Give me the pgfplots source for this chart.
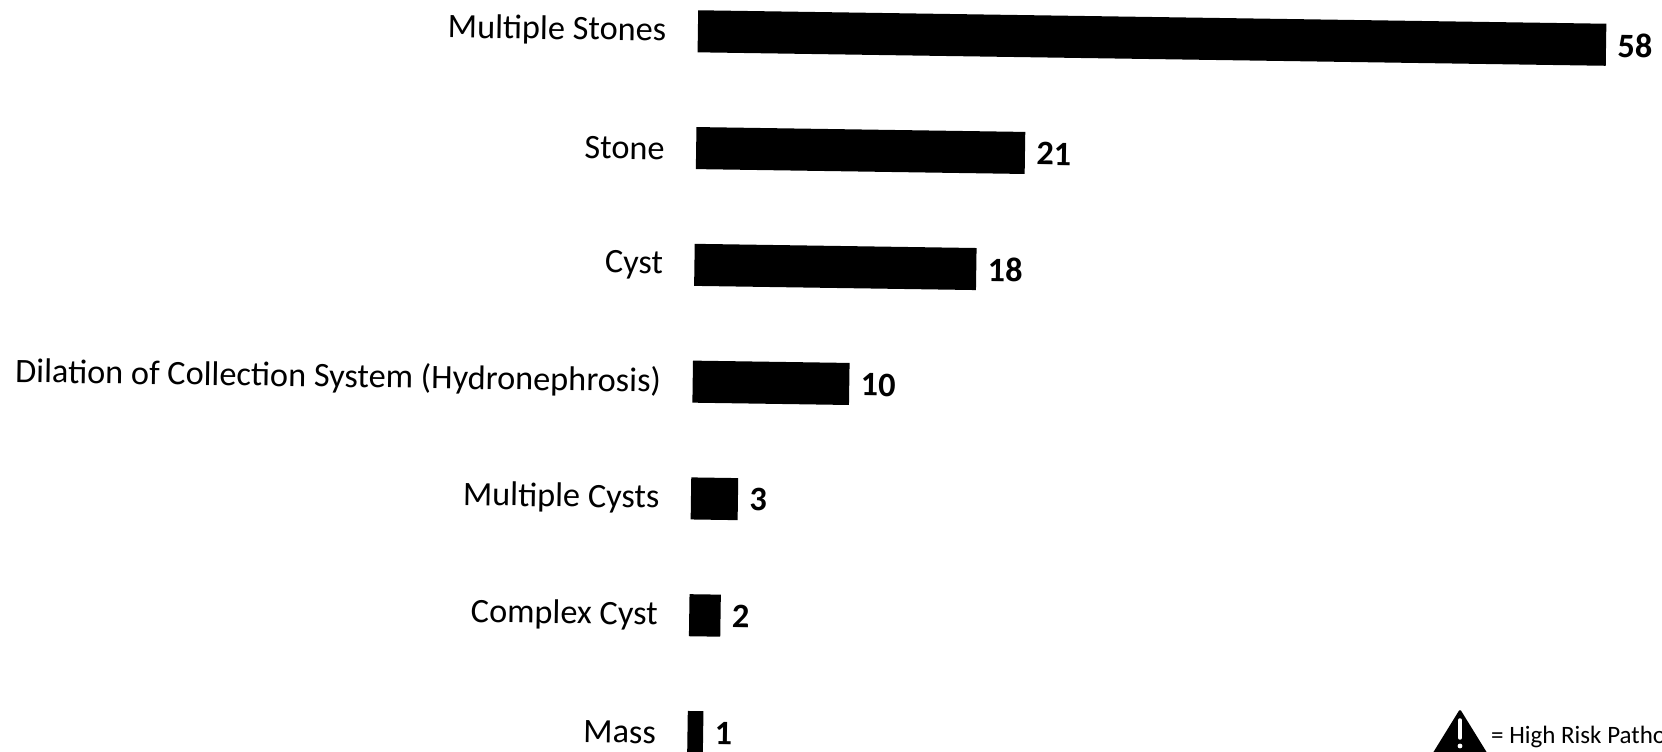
\documentclass[border=0pt]{standalone}
\usepackage{pgfplots}
\pgfplotsset{compat=1.18}
\usepackage{fontspec}
\setmainfont{Carlito}
\begin{document}
\begin{tikzpicture}[x=1pt,y=1pt]
\path[use as bounding box] (0,0) rectangle (1662,752);
\clip (0,0) rectangle (1662,752);
\begin{scope}[shift={(687.5,20)},rotate=-0.85]
\begin{axis}[
  anchor=origin, at={(0pt,0pt)},
  x=15.66pt, y=116.8pt,
  xmin=0, xmax=60, ymin=-0.5, ymax=6.5,
  clip=false,
  axis line style={draw=none},
  major tick length=0pt,
  xtick=\empty,
  ytick={0,1,2,3,4,5,6},
  yticklabels={Mass,Complex Cyst,Multiple Cysts,Dilation of Collection System (Hydronephrosis),Cyst,Stone,Multiple Stones},
  y tick label style={font=\fontsize{34.3}{40}\selectfont, anchor=east, xshift=-28pt, yshift=-1pt},
  xbar, bar width=0.36, bar shift=0pt,
  /pgf/number format/assume math mode=true,
  nodes near coords,
  nodes near coords style={font=\fontsize{34.3}{40}\selectfont\bfseries, anchor=west, xshift=8pt, yshift=-0.5pt, black},
]
\addplot[fill=black, draw=none] coordinates {(1,0) (2,1) (3,2) (10,3) (18,4) (21,5) (58,6)};
\end{axis}
\end{scope}
\fill[black, rounded corners=1.5pt] (1431,-4) -- (1460,43) -- (1489,-4) -- cycle;
\draw[white, line width=3.5pt, line cap=round] (1460,32) -- (1460,14);
\fill[white] (1460,6) circle (2.4);
\node[anchor=base west, inner sep=0pt, font=\fontsize{25}{28}\selectfont] at (1491,8) {= High Risk Pathology};
\end{tikzpicture}
\end{document}
